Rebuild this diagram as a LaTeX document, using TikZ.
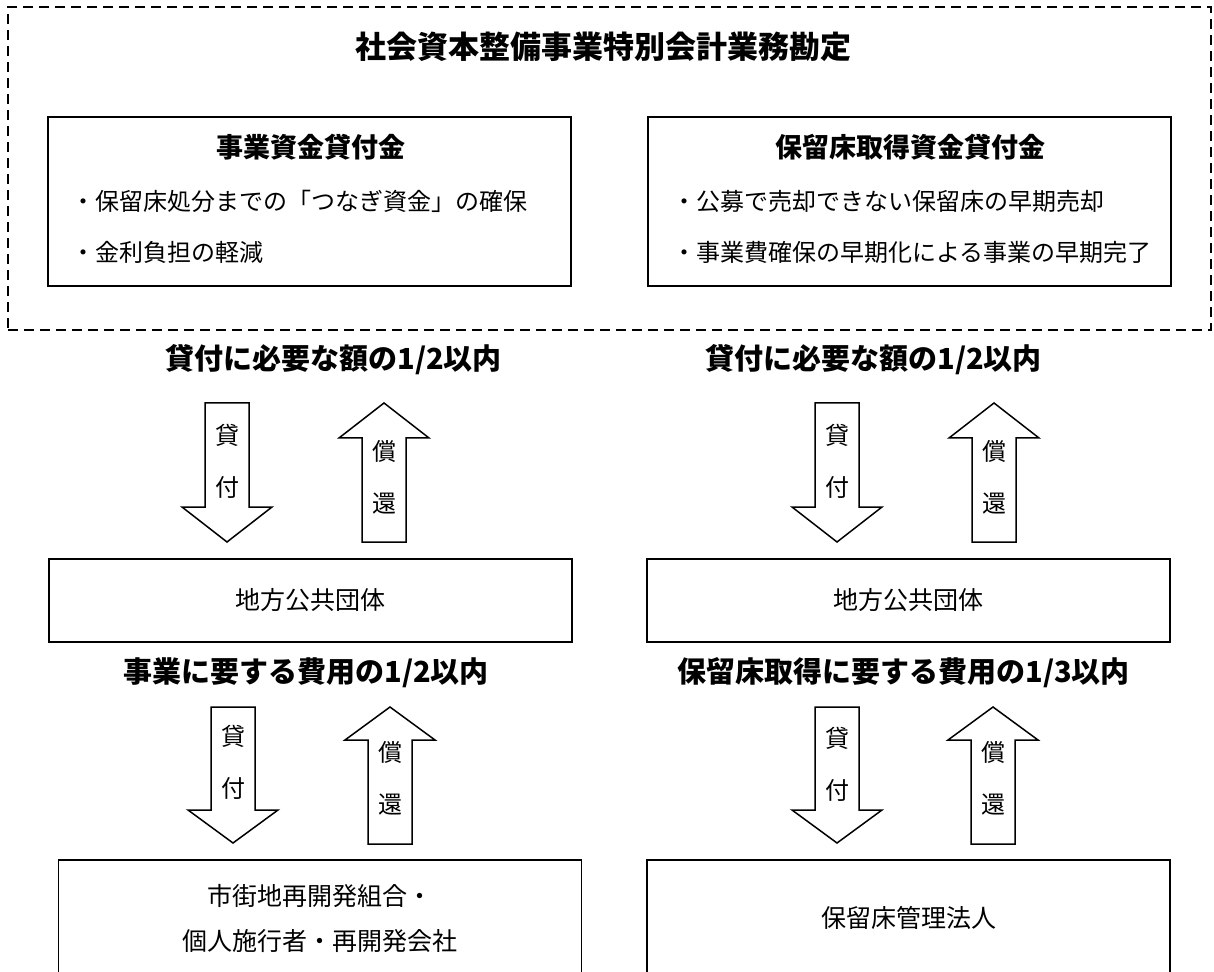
\documentclass[tikz,border=0pt]{standalone}
\usepackage{fontspec}
\setmainfont{Noto Sans CJK JP}
\usetikzlibrary{positioning}
\tikzstyle{BlockArrow} = [
%outlined block arrow:
draw, line width=0.75pt, fill=white, line join=miter
]

\begin{document}
\begin{tikzpicture}[x=0.5pt, y=-0.5pt,
		frame/.style = {rectangle, draw, dash pattern=on 5pt off 3pt, line width=0.75pt, minimum width=601.5pt, minimum height=161.5pt},
		fund/.style = {rectangle, draw, line width=0.75pt, minimum width=261.5pt, minimum height=84.5pt},
		body/.style = {rectangle, draw, line width=0.75pt, minimum width=261.5pt, minimum height=41.5pt, font=\fontsize{12.5}{15}\selectfont},
		party/.style = {rectangle, draw, line width=0.75pt, minimum width=261.5pt, minimum height=58pt, align=center, font=\fontsize{12.5}{22.5}\selectfont},
		headline/.style = {inner sep=0pt, font=\fontsize{15.5}{18}\selectfont\bfseries},
		fundtitle/.style = {inner sep=0pt, font=\fontsize{13.5}{16}\selectfont\bfseries},
		item/.style = {anchor=west, inner sep=0pt, font=\fontsize{12}{14}\selectfont},
		limit/.style = {anchor=west, inner sep=0pt, font=\fontsize{14.5}{17}\selectfont\bfseries},
		flow/.style = {inner sep=0pt, align=center, font=\fontsize{12}{26}\selectfont},
	]
	\useasboundingbox (0,0) rectangle (1214,972);
	\clip (0,0) rectangle (1214,972);

	% upper part
	\node[frame](F) at (609.5,168.5){};
	\node[headline](H) at (603,47){社会資本整備事業特別会計業務勘定};

	\node[fund](FL) at (309.5,201.5){};
	\node[fundtitle](FLt) at (311,147){事業資金貸付金};
	\node[item](FL1) at (71,201){・保留床処分までの「つなぎ資金」の確保};
	\node[item](FL2) at (71,252){・金利負担の軽減};

	\node[fund](FR) at (909.5,201.5){};
	\node[fundtitle](FRt) at (910,147){保留床取得資金貸付金};
	\node[item](FR1) at (672,201){・公募で売却できない保留床の早期売却};
	\node[item](FR2) at (672,252){・事業費確保の早期化による事業の早期完了};

	\node[limit](LA) at (165,360){貸付に必要な額の1/2以内};
	\node[limit](RA) at (705,360){貸付に必要な額の1/2以内};

	% first arrows
	\draw[BlockArrow] (205,403) -- ++(44,0) -- ++(0,104) -- ++(23,0) -- ++(-45,35) -- ++(-45,-35) -- ++(23,0) -- cycle;
	\draw[BlockArrow] (384,403) -- ++(45,35) -- ++(-23,0) -- ++(0,104) -- ++(-44,0) -- ++(0,-104) -- ++(-23,0) -- cycle;
	\draw[BlockArrow] (815,403) -- ++(44,0) -- ++(0,104) -- ++(23,0) -- ++(-45,35) -- ++(-45,-35) -- ++(23,0) -- cycle;
	\draw[BlockArrow] (994,403) -- ++(45,35) -- ++(-23,0) -- ++(0,104) -- ++(-44,0) -- ++(0,-104) -- ++(-23,0) -- cycle;
	\node[flow](LAd) at (227,461){貸\\付};
	\node[flow](LAu) at (384,477){償\\還};
	\node[flow](RAd) at (837,461){貸\\付};
	\node[flow](RAu) at (994,477){償\\還};

	\node[body](LG) at (310.5,600.5){地方公共団体};
	\node[body](RG) at (908.5,600.5){地方公共団体};

	\node[limit](LB) at (123,673){事業に要する費用の1/2以内};
	\node[limit](RB) at (677,673){保留床取得に要する費用の1/3以内};

	% second arrows
	\draw[BlockArrow] (211,707) -- ++(44,0) -- ++(0,103) -- ++(23,0) -- ++(-45,33) -- ++(-45,-33) -- ++(23,0) -- cycle;
	\draw[BlockArrow] (390,707) -- ++(45,33) -- ++(-23,0) -- ++(0,104) -- ++(-44,0) -- ++(0,-104) -- ++(-23,0) -- cycle;
	\draw[BlockArrow] (815,707) -- ++(44,0) -- ++(0,103) -- ++(23,0) -- ++(-45,33) -- ++(-45,-33) -- ++(23,0) -- cycle;
	\draw[BlockArrow] (993,707) -- ++(45,33) -- ++(-23,0) -- ++(0,104) -- ++(-44,0) -- ++(0,-104) -- ++(-23,0) -- cycle;
	\node[flow](LBd) at (233,762){貸\\付};
	\node[flow](LBu) at (390,778){償\\還};
	\node[flow](RBd) at (837,764){貸\\付};
	\node[flow](RBu) at (993,778){償\\還};

	\node[party](LP) at (320,918){市街地再開発組合・\\個人施行者・再開発会社};
	\node[party](RP) at (908.5,918){保留床管理法人};
\end{tikzpicture}
\end{document}
